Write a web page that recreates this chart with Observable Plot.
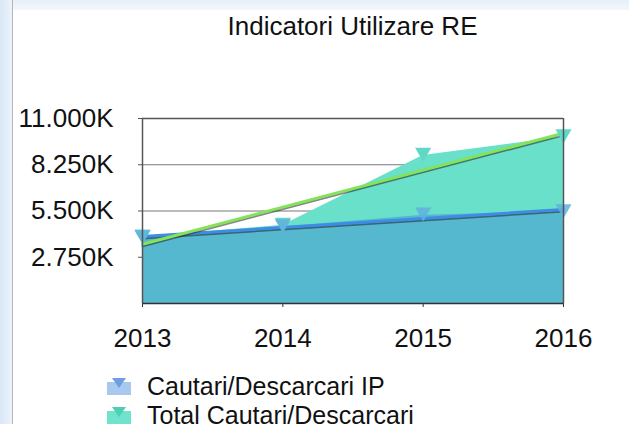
<!DOCTYPE html>
<html><head><meta charset="utf-8">
<script src="https://cdn.jsdelivr.net/npm/d3@7"></script>
<script src="https://cdn.jsdelivr.net/npm/@observablehq/plot@0.6"></script>
<style>
body{margin:0;width:629px;height:424px;overflow:hidden;background:#fff;font-family:"Liberation Sans",Arial,sans-serif;position:relative}
#topband{position:absolute;left:0;top:0;width:629px;height:10px;background:linear-gradient(#e6eff9,#f3f7fc)}
#leftband{position:absolute;left:0;top:0;width:12px;height:424px;background:linear-gradient(90deg,#d9e7f5,#ecf3fb);border-right:1px solid #b5b5b5}
#title{position:absolute;top:13px;left:0;width:705px;text-align:center;font-size:26px;line-height:26px;color:#111}
#chart{position:absolute;left:0;top:40px}
.leg{position:absolute;left:107px;font-size:25px;line-height:25px;color:#111;white-space:nowrap}
.leg svg{position:absolute;left:0}
.leg span{position:absolute;left:40px;top:0}
</style></head>
<body>
<div id="topband"></div><div id="leftband"></div>
<div id="title">Indicatori Utilizare RE</div>
<div id="chart"></div>
<div id="legend"></div>
<script>
const years = [2013, 2014, 2015, 2016];
const ipValues = [3900, 4550, 5250, 5450];
const totalValues = [3950, 4650, 8800, 9900];
const seriesNames = ["Cautari/Descarcari IP", "Total Cautari/Descarcari"];
const yTicks = [2750, 5500, 8250, 11000];
const yTickLabels = ["2.750K", "5.500K", "8.250K", "11.000K"];

const ip = years.map((y, i) => ({year: y, value: ipValues[i]}));
const total = years.map((y, i) => ({year: y, value: totalValues[i]}));
const labelOf = new Map(yTicks.map((t, i) => [t, yTickLabels[i]]));

const plot = Plot.plot({
  width: 629, height: 320,
  marginTop: 78, marginBottom: 57, marginLeft: 142, marginRight: 66,
  style: {fontFamily: '"Liberation Sans", Arial, sans-serif', fontSize: "26px", color: "#111", background: "transparent", overflow: "visible"},
  x: {domain: [2013, 2016], label: null},
  y: {domain: [0, 11000], label: null},
  marks: [
    Plot.gridY(yTicks, {stroke: "#777", strokeOpacity: 1, strokeWidth: 1}),
    Plot.areaY(total, {x: "year", y: "value", fill: "#68e0ca"}),
    Plot.areaY(ip, {x: "year", y: "value", fill: "#56b8cf"}),
    Plot.linearRegressionY(ip, {x: "year", y: "value", stroke: "#222", strokeWidth: 2, strokeOpacity: 0.55, dy: 2, ci: 0}),
    Plot.linearRegressionY(ip, {x: "year", y: "value", stroke: "#3d8de6", strokeWidth: 3, ci: 0}),
    Plot.linearRegressionY(total, {x: "year", y: "value", stroke: "#222", strokeWidth: 2, strokeOpacity: 0.55, dy: 2, ci: 0}),
    Plot.linearRegressionY(total, {x: "year", y: "value", stroke: "#84e35a", strokeWidth: 3, ci: 0}),
    Plot.dot(total, {x: "year", y: "value", symbol: "triangle", rotate: 180, r: 6, fill: "#5fd8c6", dy: -3}),
    Plot.dot(ip, {x: "year", y: "value", symbol: "triangle", rotate: 180, r: 6, fill: "#62b0dc", fillOpacity: 0.85, dy: -3}),
    Plot.ruleY([11000], {stroke: "#555", strokeWidth: 1.5}),
    Plot.ruleY([0], {stroke: "#333", strokeWidth: 1.5}),
    Plot.ruleX([2013, 2016], {stroke: "#555", strokeWidth: 1.5}),
    Plot.axisY({ticks: yTicks, tickFormat: d => labelOf.get(d), tickSize: 4, tickPadding: 25, stroke: "#555", label: null}),
    Plot.axisX({ticks: years, tickFormat: d => String(d), tickSize: 4, tickPadding: 21, stroke: "#333", label: null})
  ]
});
document.getElementById("chart").appendChild(plot);

const legendColors = [["#a9c8ef", "#6f9fe3"], ["#6fe3cc", "#4fcfb7"]];
const legendTops = [374, 403];
const legend = document.getElementById("legend");
seriesNames.forEach((name, i) => {
  const d = document.createElement("div");
  d.className = "leg";
  d.style.top = legendTops[i] + "px";
  d.innerHTML = `<svg width="24" height="18" style="top:4px"><rect x="0" y="4" width="24" height="13" fill="${legendColors[i][0]}"/><path d="M5 0 L19 0 L12 10 Z" fill="${legendColors[i][1]}"/></svg><span>${name}</span>`;
  legend.appendChild(d);
});
</script>
</body></html>
